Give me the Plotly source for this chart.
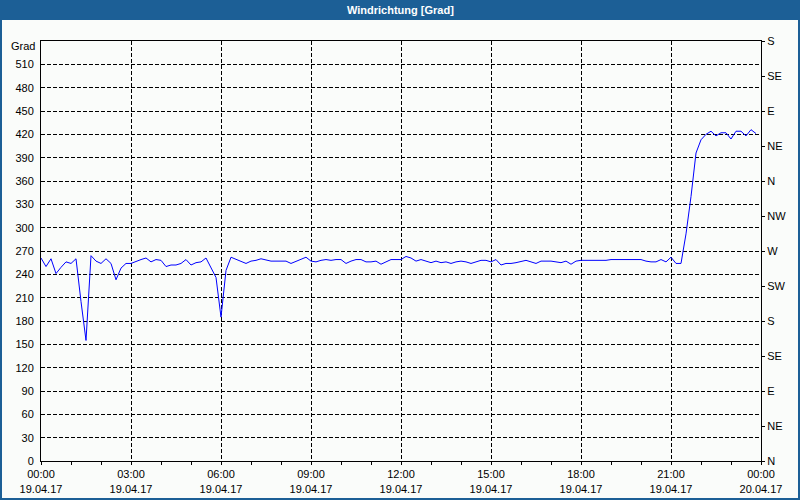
import pandas as pd
import plotly.graph_objects as go

# ---- data -------------------------------------------------------------
start_time = "2017-04-19 00:00"
n_points = 144  # 10-minute samples
wind_direction = [
    261, 250, 260, 241, 249, 256, 254, 260, 205, 155,
    264, 257, 254, 260, 254, 233, 248, 254, 254, 256,
    259, 261, 256, 259, 258, 250, 252, 252, 254, 259,
    252, 255, 256, 261, 249, 236, 185, 245, 262, 259,
    257, 254, 257, 258, 260, 258, 257, 257, 257, 257,
    254, 257, 260, 262, 257, 256, 258, 259, 258, 259,
    259, 254, 257, 259, 259, 256, 256, 257, 253, 256,
    259, 259, 259, 263, 261, 257, 259, 257, 255, 257,
    255, 256, 254, 256, 257, 256, 254, 256, 258, 258,
    256, 259, 252, 254, 254, 255, 257, 258, 256, 254,
    257, 257, 257, 256, 255, 257, 253, 257, 258, 258,
    258, 258, 258, 258, 259, 259, 259, 259, 259, 259,
    259, 257, 256, 256, 259, 256, 262, 254, 254, 292,
    340, 396, 413, 420, 424, 418, 422, 422, 414, 424,
    424, 418, 426, 421,
]

x_tick_vals = [
    "2017-04-19 00:00", "2017-04-19 03:00", "2017-04-19 06:00",
    "2017-04-19 09:00", "2017-04-19 12:00", "2017-04-19 15:00",
    "2017-04-19 18:00", "2017-04-19 21:00", "2017-04-20 00:00",
]
x_tick_text = [
    "00:00<br>19.04.17", "03:00<br>19.04.17", "06:00<br>19.04.17",
    "09:00<br>19.04.17", "12:00<br>19.04.17", "15:00<br>19.04.17",
    "18:00<br>19.04.17", "21:00<br>19.04.17", "00:00<br>20.04.17",
]
y_tick_vals = [0, 30, 60, 90, 120, 150, 180, 210, 240, 270, 300, 330,
               360, 390, 420, 450, 480, 510]
compass_vals = [0, 45, 90, 135, 180, 225, 270, 315, 360, 405, 450, 495, 540]
compass_text = ["N", "NE", "E", "SE", "S", "SW", "W", "NW", "N", "NE",
                "E", "SE", "S"]
title_text = "Windrichtung [Grad]"
unit_text = "Grad"

times = pd.date_range(start_time, periods=n_points, freq="10min")

# ---- layout helpers (pixel -> paper) ----------------------------------
W, H = 800, 500
L, R, T, B = 41, 761, 41, 461


def xp(px):
    return (px - L) / (R - L)


def yp(py):
    return (B - py) / (B - T)


BG = "#fafcfa"
BLUE = "#1c5f96"
FONT = "Liberation Sans, Arial, sans-serif"

fig = go.Figure()
fig.add_trace(go.Scatter(
    x=times, y=wind_direction, mode="lines",
    line=dict(color="#0000ff", width=1),
    showlegend=False, hoverinfo="x+y",
))
fig.add_trace(go.Scatter(
    x=times, y=wind_direction, mode="lines", yaxis="y2",
    line=dict(color="rgba(0,0,0,0)", width=1),
    showlegend=False, hoverinfo="skip",
))

fig.update_layout(
    width=W, height=H, autosize=False,
    margin=dict(l=L, r=W - R, t=T, b=H - B, pad=0, autoexpand=False),
    paper_bgcolor=BG, plot_bgcolor=BG,
    font=dict(family=FONT, size=11, color="#000000"),
    xaxis=dict(
        type="date", automargin=False,
        range=["2017-04-19 00:00", "2017-04-20 00:00"],
        tickmode="array", tickvals=x_tick_vals, ticktext=x_tick_text,
        ticks="outside", ticklen=3, tickcolor="#000000", tickwidth=1,
        showgrid=True, gridcolor="#000000", gridwidth=1, griddash="4px,2px",
        showline=True, linecolor="#000000", linewidth=1, mirror=True,
        zeroline=False,
        minor=dict(dtick=3600000, tick0="2017-04-19 00:00", ticks="outside",
                   ticklen=3, tickcolor="#000000", showgrid=False),
        tickfont=dict(family=FONT, size=11, color="#000000"),
    ),
    yaxis=dict(
        range=[0, 540], tickmode="array", tickvals=y_tick_vals,
        ticks="", ticklabelstandoff=4, automargin=False,
        showgrid=True, gridcolor="#000000", gridwidth=1, griddash="4px,2px",
        showline=True, linecolor="#000000", linewidth=1, mirror=True,
        zeroline=False,
        tickfont=dict(family=FONT, size=11, color="#000000"),
    ),
    yaxis2=dict(
        range=[0, 540], overlaying="y", side="right", automargin=False,
        tickmode="array", tickvals=compass_vals, ticktext=compass_text,
        ticks="outside", ticklen=3, tickcolor="#000000",
        showgrid=False, zeroline=False, showline=True,
        linecolor="#000000", linewidth=1,
        tickfont=dict(family=FONT, size=11, color="#000000"),
    ),
    shapes=[
        dict(type="rect", xref="paper", yref="paper",
             x0=xp(0), x1=xp(W), y0=yp(20), y1=yp(0),
             fillcolor=BLUE, line=dict(width=0), layer="below"),
        dict(type="rect", xref="paper", yref="paper",
             x0=xp(1), x1=xp(W - 1), y0=yp(H - 1), y1=yp(1),
             fillcolor="rgba(0,0,0,0)", line=dict(color=BLUE, width=2)),
    ],
    annotations=[
        dict(text="<b>" + title_text + "</b>", xref="paper", yref="paper",
             x=xp(400), y=yp(10), xanchor="center", yanchor="middle",
             showarrow=False,
             font=dict(family=FONT, size=11, color="#ffffff")),
        dict(text=unit_text, xref="paper", yref="paper",
             x=xp(37), y=yp(46), xanchor="right", yanchor="middle",
             showarrow=False,
             font=dict(family=FONT, size=11, color="#000000")),
    ],
)

fig.write_html(
    "out.html",
    config={"displayModeBar": False},
    post_script="document.body.style.margin='0';"
                "document.body.style.padding='0';"
                "document.body.style.overflow='hidden';",
)
